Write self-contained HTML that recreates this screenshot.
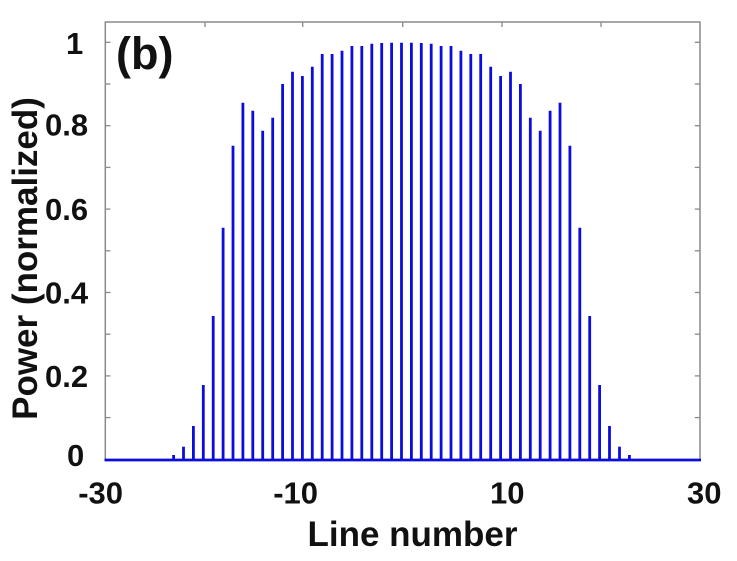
<!DOCTYPE html>
<html>
<head>
<meta charset="utf-8">
<style>
  html, body { margin: 0; padding: 0; background: #ffffff; }
  svg { display: block; }
  text { font-family: "Liberation Sans", Arial, sans-serif; font-weight: bold; fill: #111; }
</style>
</head>
<body>
<svg width="737" height="561" viewBox="0 0 737 561" xmlns="http://www.w3.org/2000/svg">
  <rect x="0" y="0" width="737" height="561" fill="#ffffff"/>
  <rect x="105.3" y="22" width="594.7" height="438" fill="none" stroke="#8a8a8a" stroke-width="1.5"/>
  <g stroke="#8a8a8a" stroke-width="1.3">
    <line x1="105.3" y1="42.3" x2="110.5" y2="42.3"/>
    <line x1="105.3" y1="84" x2="110.5" y2="84"/>
    <line x1="105.3" y1="125.7" x2="110.5" y2="125.7"/>
    <line x1="105.3" y1="167.4" x2="110.5" y2="167.4"/>
    <line x1="105.3" y1="209.1" x2="110.5" y2="209.1"/>
    <line x1="105.3" y1="250.8" x2="110.5" y2="250.8"/>
    <line x1="105.3" y1="292.5" x2="110.5" y2="292.5"/>
    <line x1="105.3" y1="334.2" x2="110.5" y2="334.2"/>
    <line x1="105.3" y1="375.9" x2="110.5" y2="375.9"/>
    <line x1="105.3" y1="417.6" x2="110.5" y2="417.6"/>
    <line x1="700" y1="42.3" x2="694.8" y2="42.3"/>
    <line x1="700" y1="84" x2="694.8" y2="84"/>
    <line x1="700" y1="125.7" x2="694.8" y2="125.7"/>
    <line x1="700" y1="167.4" x2="694.8" y2="167.4"/>
    <line x1="700" y1="209.1" x2="694.8" y2="209.1"/>
    <line x1="700" y1="250.8" x2="694.8" y2="250.8"/>
    <line x1="700" y1="292.5" x2="694.8" y2="292.5"/>
    <line x1="700" y1="334.2" x2="694.8" y2="334.2"/>
    <line x1="700" y1="375.9" x2="694.8" y2="375.9"/>
    <line x1="700" y1="417.6" x2="694.8" y2="417.6"/>
    <line x1="205" y1="22" x2="205" y2="27"/>
    <line x1="302.7" y1="22" x2="302.7" y2="27"/>
    <line x1="402.7" y1="22" x2="402.7" y2="27"/>
    <line x1="502" y1="22" x2="502" y2="27"/>
    <line x1="601" y1="22" x2="601" y2="27"/>
  </g>
  <g stroke="#0c0cdc" stroke-width="2.8">
    <line x1="173.6" y1="460" x2="173.6" y2="455"/>
    <line x1="183.5" y1="460" x2="183.5" y2="446.7"/>
    <line x1="193.4" y1="460" x2="193.4" y2="426"/>
    <line x1="203.3" y1="460" x2="203.3" y2="385"/>
    <line x1="213.2" y1="460" x2="213.2" y2="316"/>
    <line x1="223.1" y1="460" x2="223.1" y2="227.7"/>
    <line x1="233.0" y1="460" x2="233.0" y2="145.7"/>
    <line x1="242.9" y1="460" x2="242.9" y2="102.7"/>
    <line x1="252.8" y1="460" x2="252.8" y2="110.7"/>
    <line x1="262.7" y1="460" x2="262.7" y2="130.7"/>
    <line x1="272.7" y1="460" x2="272.7" y2="117.7"/>
    <line x1="282.6" y1="460" x2="282.6" y2="84"/>
    <line x1="292.5" y1="460" x2="292.5" y2="71.7"/>
    <line x1="302.4" y1="460" x2="302.4" y2="76"/>
    <line x1="312.3" y1="460" x2="312.3" y2="66.7"/>
    <line x1="322.2" y1="460" x2="322.2" y2="54"/>
    <line x1="332.1" y1="460" x2="332.1" y2="54"/>
    <line x1="342.0" y1="460" x2="342.0" y2="50.7"/>
    <line x1="351.9" y1="460" x2="351.9" y2="46"/>
    <line x1="361.8" y1="460" x2="361.8" y2="46"/>
    <line x1="371.8" y1="460" x2="371.8" y2="43.8"/>
    <line x1="381.7" y1="460" x2="381.7" y2="43"/>
    <line x1="391.6" y1="460" x2="391.6" y2="42.7"/>
    <line x1="401.5" y1="460" x2="401.5" y2="42.7"/>
    <line x1="411.4" y1="460" x2="411.4" y2="42.7"/>
    <line x1="421.3" y1="460" x2="421.3" y2="43"/>
    <line x1="431.2" y1="460" x2="431.2" y2="43.8"/>
    <line x1="441.1" y1="460" x2="441.1" y2="46"/>
    <line x1="451.0" y1="460" x2="451.0" y2="46"/>
    <line x1="460.9" y1="460" x2="460.9" y2="50.7"/>
    <line x1="470.8" y1="460" x2="470.8" y2="54"/>
    <line x1="480.7" y1="460" x2="480.7" y2="54"/>
    <line x1="490.7" y1="460" x2="490.7" y2="66.7"/>
    <line x1="500.6" y1="460" x2="500.6" y2="76"/>
    <line x1="510.5" y1="460" x2="510.5" y2="71.7"/>
    <line x1="520.4" y1="460" x2="520.4" y2="84"/>
    <line x1="530.3" y1="460" x2="530.3" y2="117.7"/>
    <line x1="540.2" y1="460" x2="540.2" y2="130.7"/>
    <line x1="550.1" y1="460" x2="550.1" y2="110.7"/>
    <line x1="560.0" y1="460" x2="560.0" y2="102.7"/>
    <line x1="569.9" y1="460" x2="569.9" y2="145.7"/>
    <line x1="579.8" y1="460" x2="579.8" y2="227.7"/>
    <line x1="589.7" y1="460" x2="589.7" y2="316"/>
    <line x1="599.6" y1="460" x2="599.6" y2="385"/>
    <line x1="609.5" y1="460" x2="609.5" y2="426"/>
    <line x1="619.5" y1="460" x2="619.5" y2="446.7"/>
    <line x1="629.4" y1="460" x2="629.4" y2="455"/>
  </g>
  <line x1="104.5" y1="460" x2="701" y2="460" stroke="#0c0cdc" stroke-width="2.8"/>
  <text x="116" y="69" font-size="45">(b)</text>
  <text x="66" y="54" font-size="31">1</text>
  <text x="45" y="135.5" font-size="31">0.8</text>
  <text x="45" y="220" font-size="31">0.6</text>
  <text x="45" y="303.5" font-size="31">0.4</text>
  <text x="45" y="387" font-size="31">0.2</text>
  <text x="67" y="466" font-size="31">0</text>
  <text x="123" y="503.5" font-size="31" text-anchor="end">-30</text>
  <text x="318" y="503.5" font-size="31" text-anchor="end">-10</text>
  <text x="524.5" y="503.5" font-size="31" text-anchor="end">10</text>
  <text x="721.5" y="503.5" font-size="31" text-anchor="end">30</text>
  <text x="412.5" y="546" font-size="35" text-anchor="middle">Line number</text>
  <text transform="translate(37,258.5) rotate(-90)" x="0" y="0" font-size="35" text-anchor="middle">Power (normalized)</text>
</svg>
</body>
</html>
